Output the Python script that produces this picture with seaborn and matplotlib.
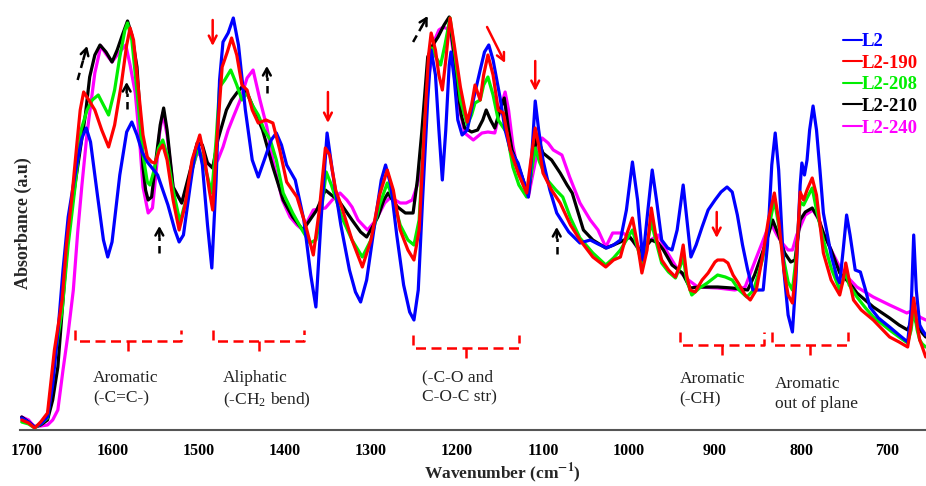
import matplotlib
matplotlib.use("Agg")
import matplotlib.pyplot as plt
from matplotlib.lines import Line2D
import seaborn as sns
import pandas as pd

# ---------------- data (wavenumber cm-1, absorbance a.u.) ----------------
L2 = [(1706, 0.12), (1698, 0.08), (1691, 0.03), (1684, 0.06), (1676, 0.13), (1670, 0.45), (1664, 0.97),
      (1658, 1.60), (1652, 2.13), (1646, 2.45), (1641, 2.70), (1636, 2.92), (1631, 3.02), (1626, 2.88),
      (1618, 2.35), (1611, 1.90), (1606, 1.73), (1601, 1.88), (1592, 2.55), (1584, 2.98), (1578, 3.08),
      (1572, 2.95), (1566, 2.78), (1560, 2.68), (1548, 2.55), (1536, 2.25), (1528, 2.00), (1523, 1.88),
      (1518, 1.95), (1510, 2.45), (1504, 2.80), (1501, 2.87), (1496, 2.65), (1490, 2.05), (1485, 1.62),
      (1480, 2.50), (1476, 3.50), (1472, 3.88), (1466, 3.97), (1460, 4.12), (1454, 3.85), (1446, 3.20),
      (1438, 2.70), (1431, 2.53), (1424, 2.70), (1416, 2.90), (1410, 2.97), (1404, 2.85), (1398, 2.65),
      (1388, 2.50), (1378, 2.10), (1370, 1.55), (1364, 1.23), (1358, 2.10), (1351, 2.97), (1345, 2.60),
      (1335, 2.05), (1325, 1.60), (1318, 1.38), (1312, 1.28), (1305, 1.50), (1295, 2.10), (1288, 2.50),
      (1283, 2.65), (1277, 2.45), (1270, 1.95), (1262, 1.45), (1255, 1.18), (1250, 1.10), (1245, 1.40),
      (1240, 2.30), (1234, 3.30), (1230, 3.80), (1225, 3.55), (1221, 3.00), (1217, 2.50), (1213, 3.00),
      (1209, 3.65), (1207, 3.78), (1203, 3.50), (1199, 3.10), (1194, 2.95), (1188, 3.00), (1181, 3.30),
      (1173, 3.60), (1168, 3.78), (1163, 3.85), (1158, 3.70), (1150, 3.33), (1144, 3.00), (1138, 2.80),
      (1129, 2.67), (1123, 2.50), (1117, 2.33), (1113, 2.75), (1109, 3.29), (1105, 3.00), (1100, 2.70),
      (1092, 2.40), (1084, 2.17), (1070, 1.98), (1057, 1.87), (1045, 1.90), (1036, 1.86), (1026, 1.82),
      (1018, 1.85), (1010, 1.90), (1003, 2.20), (996, 2.68), (990, 2.30), (984, 1.70), (978, 2.20),
      (973, 2.60), (968, 2.30), (962, 1.90), (955, 1.82), (950, 1.80), (944, 2.00), (937, 2.45),
      (932, 2.05), (928, 1.73), (922, 1.85), (915, 2.03), (908, 2.20), (900, 2.30), (893, 2.38),
      (886, 2.43), (880, 2.38), (874, 2.15), (868, 1.85), (862, 1.60), (856, 1.40), (844, 1.40),
      (839, 1.85), (834, 2.65), (830, 2.97), (826, 2.60), (820, 1.60), (815, 1.15), (810, 0.98),
      (806, 1.50), (801, 2.45), (799, 2.67), (796, 2.55), (793, 2.70), (790, 3.00), (786, 3.24),
      (782, 3.00), (778, 2.60), (774, 2.17), (765, 1.75), (758, 1.52), (755, 1.47), (751, 1.80),
      (747, 2.15), (743, 1.95), (737, 1.60), (731, 1.58), (725, 1.40), (720, 1.23), (710, 1.12),
      (697, 1.03), (686, 0.95), (676, 0.88), (672, 1.20), (669, 1.95), (666, 1.40), (662, 1.05),
      (659, 1.00), (655, 0.95)]

L2_190 = [(1706, 0.10), (1698, 0.07), (1691, 0.02), (1684, 0.08), (1676, 0.17), (1668, 0.80), (1659, 1.30),
          (1654, 1.85), (1648, 2.30), (1642, 2.85), (1638, 3.20), (1634, 3.38), (1628, 3.30), (1621, 3.20),
          (1613, 3.00), (1605, 2.83), (1598, 3.05), (1590, 3.47), (1584, 3.85), (1580, 4.02), (1576, 3.90),
          (1571, 3.47), (1565, 2.95), (1560, 2.73), (1555, 2.68), (1551, 2.67), (1546, 2.80), (1542, 2.85),
          (1537, 2.70), (1530, 2.30), (1523, 2.00), (1516, 2.25), (1508, 2.70), (1499, 2.95), (1494, 2.75),
          (1488, 2.40), (1484, 2.20), (1479, 2.90), (1473, 3.63), (1467, 3.78), (1462, 3.92), (1456, 3.75),
          (1450, 3.45), (1444, 3.40), (1438, 3.20), (1431, 3.07), (1422, 3.10), (1414, 3.07), (1406, 2.80),
          (1398, 2.48), (1386, 2.33), (1376, 2.05), (1367, 1.75), (1360, 2.20), (1353, 2.82), (1348, 2.75),
          (1341, 2.40), (1334, 2.23), (1322, 1.90), (1310, 1.63), (1300, 1.90), (1290, 2.35), (1281, 2.60),
          (1274, 2.40), (1266, 2.00), (1257, 1.80), (1250, 1.70), (1244, 2.00), (1238, 3.00), (1233, 3.75),
          (1230, 3.97), (1225, 3.80), (1221, 3.55), (1217, 3.40), (1213, 3.70), (1208, 4.12), (1204, 3.90),
          (1196, 3.43), (1188, 3.08), (1183, 3.25), (1179, 3.45), (1173, 3.30), (1169, 3.55), (1164, 3.75),
          (1158, 3.55), (1152, 3.20), (1146, 3.17), (1138, 2.80), (1128, 2.55), (1119, 2.37), (1114, 2.70),
          (1109, 3.02), (1105, 2.85), (1100, 2.57), (1090, 2.40), (1080, 2.27), (1068, 2.05), (1057, 1.90),
          (1042, 1.73), (1027, 1.63), (1018, 1.70), (1010, 1.73), (1003, 1.95), (996, 2.12), (990, 1.85),
          (985, 1.57), (979, 1.80), (974, 2.22), (969, 1.95), (962, 1.70), (954, 1.60), (946, 1.53),
          (941, 1.65), (937, 1.85), (933, 1.55), (929, 1.40), (923, 1.38), (915, 1.50), (908, 1.57),
          (900, 1.68), (897, 1.70), (890, 1.70), (885, 1.67), (879, 1.55), (873, 1.47), (865, 1.35),
          (859, 1.30), (852, 1.40), (844, 1.77), (838, 2.10), (831, 2.37), (826, 2.10), (820, 1.60),
          (815, 1.35), (810, 1.27), (806, 1.60), (801, 2.38), (797, 2.30), (793, 2.40), (787, 2.52),
          (782, 2.35), (774, 1.77), (765, 1.50), (755, 1.35), (751, 1.50), (748, 1.67), (744, 1.50),
          (739, 1.30), (730, 1.20), (716, 1.10), (697, 0.93), (686, 0.88), (676, 0.83), (672, 1.05),
          (669, 1.32), (665, 1.05), (662, 0.90), (659, 0.83), (655, 0.73)]

L2_208 = [(1706, 0.08), (1698, 0.06), (1691, 0.02), (1684, 0.06), (1676, 0.12), (1668, 0.70), (1659, 1.20),
          (1652, 1.85), (1644, 2.43), (1637, 3.00), (1630, 3.20), (1624, 3.30), (1617, 3.35), (1611, 3.25),
          (1605, 3.15), (1598, 3.40), (1592, 3.73), (1586, 4.00), (1583, 4.07), (1578, 3.90), (1571, 3.30),
          (1565, 2.75), (1560, 2.48), (1557, 2.45), (1552, 2.60), (1547, 2.82), (1542, 2.90), (1537, 2.75),
          (1530, 2.40), (1522, 2.08), (1515, 2.30), (1508, 2.60), (1501, 2.82), (1495, 2.70), (1489, 2.50),
          (1485, 2.37), (1480, 2.90), (1476, 3.43), (1470, 3.50), (1463, 3.60), (1456, 3.45), (1450, 3.30),
          (1444, 3.37), (1438, 3.25), (1431, 3.15), (1424, 3.00), (1417, 2.90), (1410, 2.70), (1402, 2.37),
          (1391, 2.17), (1380, 2.00), (1371, 1.87), (1364, 1.90), (1359, 2.10), (1352, 2.58), (1346, 2.45),
          (1334, 2.13), (1322, 1.90), (1310, 1.73), (1300, 1.90), (1290, 2.25), (1281, 2.47), (1274, 2.30),
          (1266, 2.05), (1257, 1.90), (1250, 1.85), (1244, 2.10), (1238, 3.00), (1233, 3.60), (1229, 3.82),
          (1224, 3.72), (1219, 3.65), (1214, 3.85), (1208, 4.12), (1203, 3.80), (1196, 3.30), (1188, 3.05),
          (1183, 3.15), (1179, 3.27), (1173, 3.30), (1169, 3.45), (1164, 3.53), (1158, 3.35), (1152, 3.10),
          (1142, 2.97), (1135, 2.63), (1128, 2.45), (1119, 2.33), (1114, 2.55), (1109, 2.82), (1104, 2.68),
          (1095, 2.50), (1085, 2.40), (1077, 2.33), (1068, 2.12), (1057, 1.92), (1042, 1.77), (1027, 1.65),
          (1018, 1.72), (1010, 1.80), (1003, 1.90), (996, 2.00), (990, 1.82), (985, 1.67), (979, 1.85),
          (974, 2.08), (969, 1.90), (962, 1.67), (954, 1.58), (946, 1.52), (941, 1.62), (937, 1.73),
          (933, 1.50), (927, 1.35), (918, 1.42), (909, 1.47), (900, 1.53), (897, 1.55), (888, 1.53),
          (880, 1.50), (872, 1.40), (863, 1.33), (855, 1.40), (845, 1.70), (838, 2.00), (831, 2.30),
          (826, 2.05), (820, 1.70), (815, 1.48), (810, 1.40), (806, 1.70), (801, 2.28), (797, 2.25),
          (793, 2.32), (787, 2.42), (782, 2.20), (774, 1.90), (765, 1.62), (755, 1.40), (751, 1.50),
          (748, 1.57), (744, 1.45), (735, 1.33), (725, 1.22), (716, 1.13), (697, 1.00), (686, 0.93),
          (676, 0.87), (672, 1.00), (669, 1.22), (665, 1.00), (662, 0.90), (659, 0.86), (655, 0.83)]

L2_210 = [(1706, 0.13), (1698, 0.08), (1691, 0.03), (1684, 0.05), (1676, 0.10), (1670, 0.30), (1664, 0.63),
          (1658, 1.30), (1652, 1.97), (1645, 2.40), (1638, 2.80), (1632, 3.15), (1627, 3.53), (1621, 3.75),
          (1615, 3.85), (1608, 3.78), (1601, 3.68), (1595, 3.80), (1589, 3.95), (1583, 4.09), (1578, 3.95),
          (1572, 3.63), (1568, 3.10), (1565, 2.63), (1562, 2.40), (1559, 2.30), (1555, 2.33), (1550, 2.70),
          (1545, 3.05), (1541, 3.22), (1537, 3.00), (1530, 2.43), (1520, 2.27), (1510, 2.60), (1502, 2.87),
          (1496, 2.85), (1490, 2.67), (1484, 2.62), (1478, 2.90), (1468, 3.20), (1462, 3.30), (1456, 3.37),
          (1450, 3.43), (1443, 3.35), (1437, 3.23), (1426, 3.00), (1414, 2.63), (1402, 2.30), (1391, 2.13),
          (1379, 2.00), (1371, 2.10), (1363, 2.20), (1353, 2.40), (1346, 2.35), (1338, 2.30), (1322, 2.10),
          (1312, 1.98), (1305, 1.93), (1297, 2.05), (1292, 2.13), (1285, 2.30), (1280, 2.37), (1275, 2.30),
          (1269, 2.23), (1260, 2.17), (1251, 2.17), (1246, 2.50), (1241, 2.97), (1234, 3.73), (1228, 3.85),
          (1222, 3.93), (1215, 4.05), (1209, 4.13), (1204, 3.80), (1200, 3.47), (1195, 3.15), (1191, 3.02),
          (1183, 2.98), (1176, 3.00), (1170, 3.10), (1166, 3.20), (1161, 3.10), (1156, 3.02), (1150, 3.20),
          (1145, 3.32), (1140, 3.00), (1136, 2.80), (1127, 2.60), (1117, 2.35), (1112, 2.70), (1107, 2.93),
          (1100, 2.77), (1090, 2.70), (1080, 2.57), (1072, 2.45), (1066, 2.37), (1060, 2.20), (1053, 2.00),
          (1042, 1.90), (1027, 1.82), (1018, 1.85), (1010, 1.88), (999, 1.93), (992, 1.85), (985, 1.77),
          (979, 1.85), (974, 1.90), (966, 1.87), (960, 1.80), (950, 1.65), (938, 1.57), (929, 1.42),
          (918, 1.43), (897, 1.43), (880, 1.42), (862, 1.40), (854, 1.55), (845, 1.77), (838, 1.95),
          (833, 2.10), (826, 1.95), (819, 1.77), (812, 1.68), (807, 1.70), (801, 2.10), (795, 2.18),
          (787, 2.22), (780, 2.12), (774, 1.97), (765, 1.80), (755, 1.57), (747, 1.50), (740, 1.43),
          (735, 1.37), (716, 1.23), (697, 1.12), (686, 1.05), (676, 1.00), (672, 1.08), (669, 1.15),
          (665, 1.05), (659, 0.97), (655, 0.93)]

L2_240 = [(1706, 0.13), (1698, 0.10), (1691, 0.03), (1684, 0.04), (1676, 0.05), (1670, 0.10), (1664, 0.20),
          (1658, 0.60), (1652, 0.97), (1646, 1.40), (1641, 1.97), (1636, 2.45), (1630, 2.97), (1625, 3.30),
          (1621, 3.57), (1614, 3.84), (1608, 3.76), (1601, 3.68), (1595, 3.75), (1590, 3.80), (1585, 3.85),
          (1580, 3.65), (1574, 3.37), (1569, 2.90), (1565, 2.43), (1559, 2.17), (1554, 2.22), (1550, 2.55),
          (1546, 2.95), (1542, 3.17), (1537, 2.95), (1530, 2.43), (1520, 2.27), (1510, 2.55), (1502, 2.77),
          (1495, 2.73), (1490, 2.67), (1484, 2.62), (1478, 2.70), (1472, 2.83), (1466, 3.00), (1460, 3.13),
          (1452, 3.30), (1444, 3.52), (1437, 3.60), (1433, 3.45), (1429, 3.30), (1421, 3.03), (1414, 2.70),
          (1403, 2.30), (1394, 2.13), (1386, 2.05), (1379, 2.00), (1367, 2.20), (1353, 2.22), (1345, 2.30),
          (1336, 2.37), (1328, 2.30), (1322, 2.23), (1315, 2.10), (1304, 2.00), (1296, 2.08), (1290, 2.17),
          (1284, 2.27), (1278, 2.32), (1272, 2.30), (1266, 2.27), (1259, 2.27), (1252, 2.30), (1246, 2.45),
          (1241, 2.63), (1234, 3.47), (1226, 3.90), (1221, 4.00), (1216, 4.03), (1208, 4.00), (1203, 3.70),
          (1199, 3.30), (1191, 2.97), (1181, 2.90), (1171, 2.97), (1164, 2.98), (1156, 2.97), (1150, 3.20),
          (1144, 3.38), (1140, 3.20), (1135, 2.85), (1130, 2.63), (1125, 2.50), (1117, 2.33), (1112, 2.55),
          (1106, 2.80), (1101, 2.92), (1094, 2.87), (1088, 2.80), (1078, 2.75), (1069, 2.53), (1057, 2.27),
          (1045, 2.10), (1036, 2.00), (1027, 1.83), (1019, 1.97), (1007, 1.97), (996, 1.90), (991, 1.83),
          (985, 1.83), (975, 1.90), (966, 1.95), (960, 1.85), (955, 1.77), (943, 1.60), (931, 1.50),
          (920, 1.43), (897, 1.42), (877, 1.40), (865, 1.43), (853, 1.70), (838, 2.03), (834, 2.05),
          (828, 1.95), (822, 1.87), (815, 1.80), (810, 1.80), (805, 1.95), (801, 2.03), (795, 2.15),
          (786, 2.20), (778, 2.08), (774, 1.97), (765, 1.80), (755, 1.63), (745, 1.52), (735, 1.43),
          (716, 1.33), (697, 1.25), (677, 1.17), (669, 1.20), (662, 1.13), (655, 1.10)]

series_names = ["L2", "L2-190", "L2-208", "L2-210", "L2-240"]
series_colors = ["#0000FF", "#FF0000", "#00EE00", "#000000", "#FF00FF"]
x_ticks = [1700, 1600, 1500, 1400, 1300, 1200, 1100, 1000, 900, 800, 700]

band_labels = ["Aromatic\n(-C=C-)", "Aliphatic\n(-CH$_\\mathregular{2}$ bend)", "(-C-O and\nC-O-C str)",
               "Aromatic\n(-CH)", "Aromatic\nout of plane"]

# ---------------- build long-form table ----------------
frames = []
for name, pts in zip(series_names, [L2, L2_190, L2_208, L2_210, L2_240]):
    df = pd.DataFrame(pts, columns=["wn", "absorbance"])
    df["sample"] = name
    frames.append(df)
data = pd.concat(frames, ignore_index=True)
palette = dict(zip(series_names, series_colors))

sns.set_style("white")
plt.rcParams["font.family"] = ["Liberation Serif", "DejaVu Serif"]
plt.rcParams["mathtext.fontset"] = "stix"

fig = plt.figure(figsize=(9.26, 4.86), dpi=100)
ax = fig.add_axes([20 / 926, 1 - 430 / 486, 906 / 926, 430 / 486])

draw_order = ["L2-240", "L2-210", "L2-208", "L2", "L2-190"]
for name in draw_order:
    sns.lineplot(data=data[data["sample"] == name], x="wn", y="absorbance", color=palette[name],
                 lw=2.3, estimator=None, sort=False, ax=ax, legend=False,
                 solid_joinstyle="round", solid_capstyle="round")

ax.set_xlim(1708, 654.7)
ax.set_ylim(0, 4.30)
ax.set_xticks(x_ticks)
ax.set_yticks([])
for s in ["left", "top", "right"]:
    ax.spines[s].set_visible(False)
ax.spines["bottom"].set_color("#555555")
ax.spines["bottom"].set_linewidth(1.5)
ax.tick_params(axis="x", direction="out", length=4, width=1, colors="#555555",
               labelcolor="black", labelsize=11.5, pad=5)
for lab in ax.get_xticklabels():
    lab.set_fontweight("bold")

ax.set_xlabel("Wavenumber (cm$^{\\mathbf{-1}}$)", fontsize=12.5, fontweight="bold")
ax.xaxis.set_label_coords((502 - 20) / 906, -0.072)
ax.set_ylabel("Absorbance (a.u)", fontsize=13, fontweight="bold")
ax.yaxis.set_label_coords(0.013, 0.48)

# ---------------- legend ----------------
handles = [Line2D([], [], color=c, lw=1.5) for c in series_colors]
leg = ax.legend(handles, series_names, loc="upper left", bbox_to_anchor=(843 / 926, 1 - 33 / 486),
                bbox_transform=fig.transFigure, frameon=False, handlelength=1.0, handletextpad=0.0,
                labelspacing=0.24, borderpad=0, borderaxespad=0,
                prop={"family": "Liberation Serif", "weight": "bold", "size": 13.5}, labelcolor=series_colors)

# ---------------- band brackets ----------------
brackets = [(1644, 1521, 1583, 1.00, 0.89, 0.77), (1484, 1378, 1430, 1.00, 0.89, 0.77),
            (1251, 1128, 1190, 0.95, 0.82, 0.70), (941, 843, 892, 0.98, 0.85, 0.72),
            (834, 745, 790, 0.98, 0.85, 0.72)]
for x0, x1, xc, ytop, yh, ybot in brackets:
    ax.plot([x0, x0, x1, x1], [ytop, yh, yh, ytop], color="red", lw=1.8, dashes=(4, 2.2))
    ax.plot([xc, xc], [yh, ybot], color="red", lw=1.8, dashes=(4, 2.2))

label_pos = [(1623, 0.60), (1472, 0.60), (1241, 0.61), (941, 0.59), (830, 0.54)]
for (x, y), txt in zip(label_pos, band_labels):
    ax.text(x, y, txt, ha="left", va="top", fontsize=12.5, linespacing=1.35, color="#222222")

# ---------------- arrows ----------------
red_arrows = [((1484, 4.10), (1484, 3.84)), ((1350, 3.38), (1350, 3.07)), ((1165, 4.03), (1144, 3.67)),
              ((1109, 3.69), (1109, 3.39)), ((898, 2.18), (898, 1.92))]
for (x0, y0), (x1, y1) in red_arrows:
    ax.annotate("", xy=(x1, y1), xytext=(x0, y0),
                arrowprops=dict(arrowstyle="->,head_length=0.55,head_width=0.28", color="red", lw=1.8,
                                shrinkA=0, shrinkB=0))

black_arrows = [((1641, 3.50), (1630, 3.84)), ((1584, 3.21), (1584, 3.48)), ((1546, 1.77), (1546, 2.04)),
                ((1421, 3.37), (1421, 3.64)), ((1251, 3.88), (1234, 4.14)), ((1084, 1.76), (1084, 2.03))]
for (x0, y0), (x1, y1) in black_arrows:
    xm, ym = x0 + 0.6 * (x1 - x0), y0 + 0.6 * (y1 - y0)
    ax.plot([x0, xm], [y0, ym], color="black", lw=1.8, dashes=(3, 2))
    ax.annotate("", xy=(x1, y1), xytext=(xm, ym),
                arrowprops=dict(arrowstyle="->,head_length=0.5,head_width=0.28", color="black", lw=1.8,
                                shrinkA=0, shrinkB=0))

fig.savefig("out.png", dpi=100)
